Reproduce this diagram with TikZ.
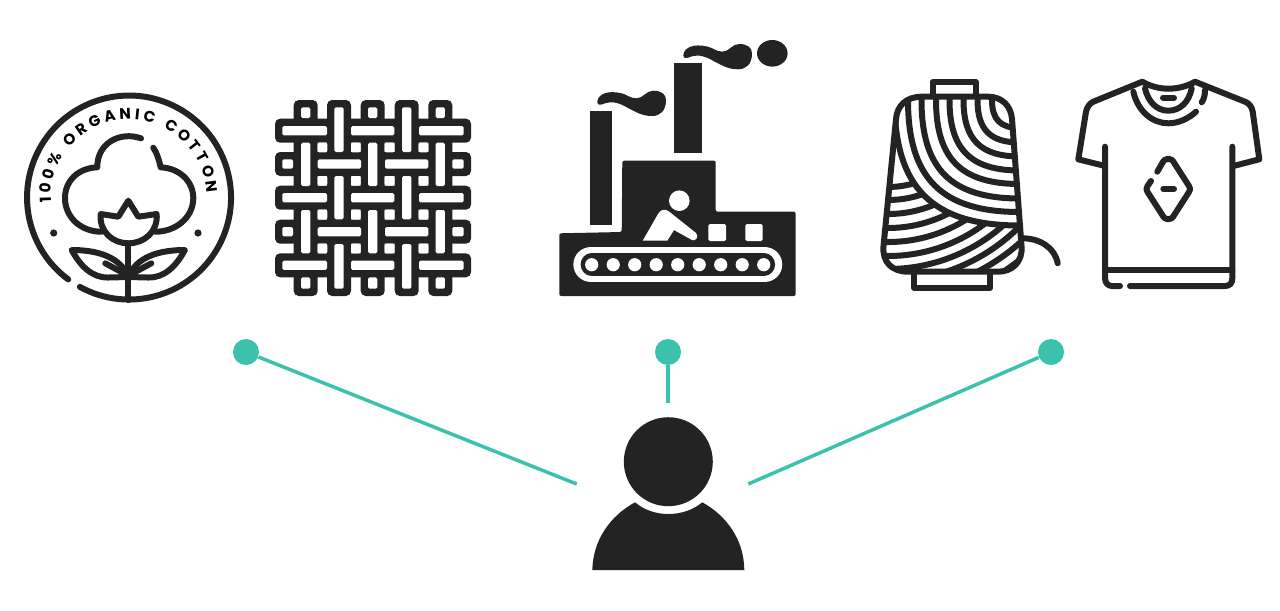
\documentclass[tikz,border=0pt]{standalone}
\usepackage{fontspec}
\newfontfamily\badgefont{Poppins}
\usetikzlibrary{decorations.text}
\definecolor{inkdark}{HTML}{232323}
\definecolor{tealdot}{HTML}{3CC2AC}
\begin{document}
\begin{tikzpicture}[
	x=0.02cm,y=-0.02cm,
	iconline/.style={draw=inkdark,line width=0.12cm,line cap=round,line join=round},
	iconfill/.style={fill=inkdark},
	gapfill/.style={fill=white,rounded corners=0.03cm},
	dot/.style={circle,fill=tealdot,minimum size=0.52cm,inner sep=0pt},
	spoke/.style={draw=tealdot,line width=0.07cm}
	]
	\useasboundingbox (0,0) rectangle (1280,610);
	
	% cotton badge
	\draw[iconline] (79.9,286.9) arc[start angle=118.8,end angle=-233.4,radius=102];
	\path[decorate,decoration={text along path,
		text={|\badgefont\bfseries\fontsize{8.7}{8.7}\selectfont|100{\%} ORGANIC COTTON},
		text align={fit to path}}]
		(51.2,202.9) arc[start angle=176,end angle=357,radius=78];
	\fill[iconfill] (53.7,233) circle[radius=3.6] (198,233) circle[radius=3.6];
	\draw[iconline] (141,138.3) .. controls (120,131) and (97,143) .. (97.3,167.3)
		.. controls (78,168) and (65,181) .. (65,198) .. controls (65,218) and (82,232) .. (101.7,231.7);
	\draw[iconline] (153.3,147.7) .. controls (157,153) and (159,160) .. (160.7,167.3)
		.. controls (179,168) and (193.3,181) .. (193.3,198) .. controls (193.3,218) and (175,232) .. (155,231.7);
	\draw[iconline] (128.3,200.7) -- (138.3,216.7) -- (156.7,214) .. controls (158,232) and (144,243.3) .. (128.3,243.3)
		.. controls (113,243.3) and (99,232) .. (100.7,214) -- (118.3,216.7) -- cycle;
	\draw[iconline] (128.3,243.3) -- (128.3,300);
	\foreach \side in {1,-1} {
		\begin{scope}[shift={(128.3,0)},xscale=\side]
			\draw[iconline] (0,277) .. controls (-6,262) and (-22,250) .. (-56.6,250)
				.. controls (-48,266) and (-36,278) .. (-20,277.5) -- (0,277);
			\draw[iconline] (-23,263.3) -- (-5,273);
		\end{scope}
	}
	
	% woven cloth
	\begin{scope}[shift={(265,90)}]
		\foreach \c in {40.7,74,107.7,141.7,175.3} {
			\fill[iconfill,rounded corners=0.1cm] (10,\c-12) rectangle (206,\c+12);
			\fill[iconfill,rounded corners=0.1cm] (\c-12,10) rectangle (\c+12,206);
		}
		\foreach \c in {40.7,107.7,175.3} {
			\foreach \a/\b in {17.3/62,86/129.3,154/198.7} {
				\path[gapfill] (\a,\c-4.6) rectangle (\b,\c+4.6);
			}
			\foreach \a/\b in {17.3/28,52.7/96,120/163.3,187.3/198.7} {
				\path[gapfill] (\c-4.6,\a) rectangle (\c+4.6,\b);
			}
		}
		\foreach \c in {74,141.7} {
			\foreach \a/\b in {17.3/62,86/129.3,154/198.7} {
				\path[gapfill] (\c-4.6,\a) rectangle (\c+4.6,\b);
			}
			\foreach \a/\b in {17.3/28,52.7/96,120/163.3,187.3/198.7} {
				\path[gapfill] (\a,\c-4.6) rectangle (\b,\c+4.6);
			}
		}
		\foreach \c in {40.7,74,107.7,141.7} {
			\foreach \d in {40.7,74,107.7,141.7} {
				\path[gapfill] (\c+12,\d+12) rectangle (\c+21.6,\d+21.6);
			}
		}
		\foreach \c in {40.7,74,107.7,141.7} {
			\path[gapfill] (\c+12,-5) rectangle (\c+21.6,9.9);
			\path[gapfill] (\c+12,206.1) rectangle (\c+21.6,220);
			\path[gapfill] (-5,\c+12) rectangle (9.9,\c+21.6);
			\path[gapfill] (206.1,\c+12) rectangle (220,\c+21.6);
		}
	\end{scope}
	
	% factory
	\fill[iconfill] (590,111) rectangle (612.3,225);
	\fill[iconfill] (674,63.3) rectangle (702,153.3);
	\fill[iconfill,rounded corners=0.04cm] (559.3,233.3) -- (621.7,232) -- (622.3,160.7) -- (715.7,160.7)
		-- (715.7,211.7) -- (795.7,211.7) -- (795.7,296) -- (559.3,296) -- cycle;
	\foreach \dx/\dy in {0/0,86/-46.7} {
		\fill[iconfill,shift={(\dx,\dy)}] (597.3,101.7) .. controls (598,94) and (608,90) .. (621.7,93.3)
			.. controls (628,95) and (630,98.3) .. (636.7,98.3) .. controls (643,98.3) and (646,90.7) .. (653.3,90.7)
			.. controls (661,90.7) and (666,94) .. (666,100) .. controls (666,111) and (660,116) .. (652,116)
			.. controls (642,116) and (636,112) .. (628,108) .. controls (620,103) and (612,101) .. (606,103)
			.. controls (601,105) and (597,106) .. (597.3,101.7) -- cycle;
	}
	\fill[iconfill] (772.3,53.3) ellipse[x radius=15.3,y radius=13.3];
	\draw[white,line width=0.71cm,line cap=round] (591.1,264.5) -- (764.5,264.5);
	\draw[inkdark,line width=0.445cm,line cap=round] (591.7,264.5) -- (764,264.5);
	\foreach \i in {0,...,8} {
		\fill[white] (591.7+\i*21.5,264.7) circle[radius=6.6];
	}
	\fill[white,rounded corners=0.03cm] (708.3,224) rectangle (726,241);
	\fill[white,rounded corners=0.03cm] (745.3,224) rectangle (762.7,241);
	\fill[white] (679.3,200.7) circle[radius=10.3];
	\fill[white] (642.7,240.7) -- (658,214) .. controls (660,210) and (665,208) .. (669,211.5)
		-- (696,233) .. controls (699,236) and (696,242) .. (692,240) -- (674,230) -- (667.3,240.7) -- cycle;
	
	% spool of thread
	\draw[iconline] (932.5,96) -- (932.5,82) -- (976,82) -- (976,96);
	\draw[iconline] (914.3,272) -- (914.3,288) -- (990,288) -- (990,272);
	\draw[iconline] (1021.7,238.3) .. controls (1040,238) and (1055,248) .. (1057.7,263.3);
	\begin{scope}
		\clip (921.7,96.7) -- (988,96.7) .. controls (1002,96.7) and (1011,106) .. (1012,119)
			-- (1021.5,246) .. controls (1023,262) and (1012,271.7) .. (998,271.7)
			-- (908,271.7) .. controls (892,271.7) and (882,262) .. (883.5,246)
			-- (896,119) .. controls (897,106) and (906,96.7) .. (921.7,96.7) -- cycle;
		\foreach \r in {92,105,119,133,147,161,174,186,198,211} {
			\draw[iconline] (888,95) circle[radius=\r];
		}
		\fill[white] (894.5,85) -- (894.5,100) .. controls (894.5,188) and (932,225.5) .. (1020,225.5)
			-- (1035,225.5) -- (1035,85) -- cycle;
		\foreach \r in {28,42.5,56.5,70.5,84,98.5,112,125.5} {
			\draw[iconline] (1020-\r,85) -- (1020-\r,100) .. controls (1020-\r,100+0.7*\r) and (1020-0.7*\r,100+\r) .. (1020,100+\r) -- (1035,100+\r);
		}
	\end{scope}
	\draw[iconline] (921.7,96.7) -- (988,96.7) .. controls (1002,96.7) and (1011,106) .. (1012,119)
		-- (1021.5,246) .. controls (1023,262) and (1012,271.7) .. (998,271.7)
		-- (908,271.7) .. controls (892,271.7) and (882,262) .. (883.5,246)
		-- (896,119) .. controls (897,106) and (906,96.7) .. (921.7,96.7) -- cycle;
	
	% t-shirt
	\draw[iconline] (1105,166) -- (1078.3,159.3) -- (1086,111.7) .. controls (1087,107) and (1090,103) .. (1093.3,101.7)
		-- (1142.3,81.7) .. controls (1158,91) and (1179,91) .. (1195,81.7) -- (1245,101.7)
		.. controls (1249,103) and (1252,107) .. (1252.7,111.7) -- (1259.3,159.3) -- (1233.3,166);
	\draw[iconline] (1105,146.7) -- (1105,278) .. controls (1105,283) and (1108,286) .. (1112,286) -- (1120,286);
	\draw[iconline] (1130,286) -- (1225,286) .. controls (1230,286) and (1232.3,283) .. (1232.3,278) -- (1232.3,146.7);
	\draw[iconline] (1105,270) -- (1232.3,270);
	\draw[iconline] (1133.3,91.7) .. controls (1138,112) and (1153,123.3) .. (1168.3,123.3)
		.. controls (1178,123.3) and (1188,119) .. (1196,111.7);
	\draw[iconline] (1145,88.3) .. controls (1148,102) and (1157,110.7) .. (1168.3,110.7)
		.. controls (1180,110.7) and (1189,102) .. (1191.7,88.3);
	\draw[iconline] (1205,90) .. controls (1205,95) and (1204,99) .. (1201.7,102.3);
	\draw[iconline] (1163,97.7) -- (1174,97.7);
	\draw[iconline] (1157.3,171.7) -- (1162,163.5) .. controls (1165,157) and (1171.5,157) .. (1174.5,163.5)
		-- (1189,186) .. controls (1190.5,188) and (1190.5,190) .. (1189,192) -- (1174.5,214.5)
		.. controls (1171.5,221) and (1165,221) .. (1162,214.5) -- (1147.5,192) .. controls (1146,190) and (1146,188) .. (1147.5,186) -- (1151,181);
	\draw[iconline] (1163.3,189) -- (1174,189);
	
	% person
	\node[circle,fill=inkdark,minimum size=1.78cm,inner sep=0pt] (head) at (668.3,461.7) {};
	\fill[iconfill] (592.3,570) .. controls (593,540) and (610,516) .. (635,502.3)
		.. controls (644,510) and (656,514) .. (668.3,514) .. controls (681,514) and (693,510) .. (702.3,502.3)
		.. controls (727,516) and (744,540) .. (744.3,570) -- cycle;
	
	% links
	\node[dot] (dotcotton) at (246,352) {};
	\node[dot] (dotfactory) at (668,352) {};
	\node[dot] (dotproduct) at (1051,352) {};
	\coordinate (endcotton) at (576.7,484);
	\coordinate (endfactory) at (668,403.3);
	\coordinate (endproduct) at (748.3,484);
	\draw[spoke] (dotcotton) -- (endcotton);
	\draw[spoke] (dotfactory) -- (endfactory);
	\draw[spoke] (dotproduct) -- (endproduct);
\end{tikzpicture}
\end{document}
